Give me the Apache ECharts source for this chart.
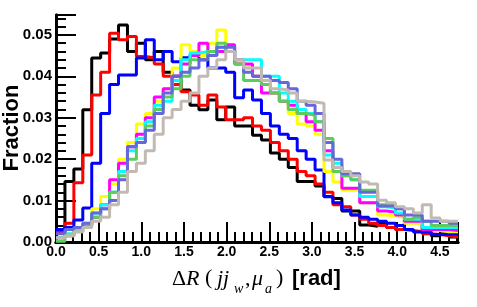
<!DOCTYPE html>
<html><head><meta charset="utf-8">
<script src="https://cdn.jsdelivr.net/npm/echarts@6/dist/echarts.min.js"></script>
<style>html,body{margin:0;padding:0;background:#fff}#c{width:477px;height:307px}</style>
</head><body><div id="c"></div>
<script>
// bin layout: 45 bins of width pi/30 from 0 to 3pi/2
const nBins = 45;
const binWidth = Math.PI / 30;
const xTickLabels = ['0.0','0.5','1.0','1.5','2.0','2.5','3.0','3.5','4.0','4.5'];
const yTickLabels = ['0.00','0.01','0.02','0.03','0.04','0.05'];

const blackVals = [0.0025,0.0146,0.0176,0.0319,0.0444,0.0456,0.049,0.0524,0.046,0.048,0.044,0.046,0.041,0.040,0.0367,0.033,0.0319,0.0343,0.0295,0.0326,0.028,0.028,0.0258,0.0246,0.0215,0.020,0.018,0.0146,0.0146,0.0135,0.011,0.0105,0.0075,0.0075,0.0041,0.0038,0.0045,0.0035,0.003,0.0053,0.0053,0.0025,0.0015,0.002,0.0012];
const redVals = [0.0025,0.0045,0.0143,0.021,0.0355,0.041,0.0504,0.0488,0.0496,0.0448,0.0445,0.043,0.040,0.038,0.0363,0.0355,0.033,0.0355,0.0326,0.0295,0.0295,0.030,0.028,0.027,0.024,0.022,0.020,0.017,0.016,0.014,0.012,0.009,0.0085,0.0065,0.0055,0.0045,0.004,0.0035,0.003,0.0028,0.0025,0.002,0.0018,0.0015,0.0012];
const blueVals = [0.003,0.0035,0.0053,0.0082,0.019,0.031,0.038,0.0403,0.0403,0.0444,0.0488,0.044,0.046,0.0435,0.0445,0.045,0.044,0.042,0.042,0.041,0.0348,0.0367,0.0343,0.031,0.028,0.026,0.025,0.022,0.020,0.0174,0.0109,0.0095,0.0077,0.0065,0.006,0.0055,0.005,0.0045,0.004,0.003,0.0024,0.0024,0.0018,0.0018,0.002];
const yellowVals = [0.001,0.002,0.003,0.004,0.008,0.011,0.014,0.020,0.024,0.0285,0.031,0.034,0.037,0.042,0.0476,0.046,0.045,0.048,0.0512,0.046,0.043,0.042,0.040,0.038,0.036,0.034,0.031,0.0285,0.028,0.026,0.017,0.0145,0.0125,0.0125,0.0095,0.0095,0.0065,0.0063,0.006,0.0045,0.0045,0.003,0.0028,0.0025,0.0025];
const magentaVals = [0.001,0.0015,0.003,0.004,0.006,0.009,0.015,0.019,0.023,0.026,0.030,0.035,0.037,0.040,0.043,0.045,0.048,0.045,0.046,0.0476,0.043,0.043,0.040,0.036,0.036,0.034,0.033,0.031,0.029,0.027,0.022,0.018,0.013,0.013,0.0095,0.0095,0.0075,0.0072,0.0065,0.005,0.005,0.003,0.003,0.003,0.0028];
const cyanVals = [0.001,0.002,0.003,0.0045,0.007,0.009,0.012,0.017,0.022,0.025,0.029,0.033,0.034,0.039,0.044,0.0456,0.046,0.045,0.047,0.046,0.044,0.044,0.044,0.040,0.040,0.036,0.034,0.032,0.031,0.029,0.021,0.019,0.016,0.015,0.011,0.011,0.0085,0.0082,0.007,0.0055,0.0055,0.0035,0.0035,0.0035,0.0035];
const greenVals = [0.0002,0.0015,0.0025,0.004,0.006,0.008,0.012,0.016,0.020,0.024,0.028,0.032,0.035,0.037,0.040,0.044,0.044,0.046,0.048,0.046,0.043,0.039,0.039,0.038,0.036,0.034,0.032,0.031,0.0306,0.029,0.025,0.017,0.016,0.015,0.0125,0.0125,0.009,0.009,0.008,0.0055,0.006,0.005,0.004,0.004,0.004];
const slateVals = [0.002,0.003,0.0035,0.0045,0.007,0.008,0.010,0.015,0.023,0.024,0.027,0.031,0.036,0.040,0.041,0.042,0.044,0.045,0.047,0.047,0.044,0.041,0.040,0.040,0.039,0.0385,0.037,0.034,0.033,0.031,0.024,0.020,0.0165,0.0165,0.012,0.012,0.0087,0.0087,0.008,0.0065,0.0065,0.005,0.005,0.005,0.0045];
const grayVals = [0.001,0.0015,0.0025,0.0035,0.005,0.006,0.009,0.012,0.017,0.019,0.022,0.026,0.030,0.032,0.034,0.036,0.040,0.042,0.044,0.046,0.044,0.042,0.042,0.039,0.037,0.0367,0.036,0.034,0.0338,0.0335,0.0198,0.018,0.017,0.016,0.0145,0.014,0.0101,0.0095,0.0085,0.008,0.007,0.009,0.0058,0.005,0.005];

const seriesDefs = [
  {name:'s1', color:'#000000', vals: blackVals},
  {name:'s2', color:'#ff0000', vals: redVals},
  {name:'s3', color:'#0000ff', vals: blueVals},
  {name:'s4', color:'#ffff00', vals: yellowVals},
  {name:'s5', color:'#ff00ff', vals: magentaVals},
  {name:'s6', color:'#00ffff', vals: cyanVals},
  {name:'s7', color:'#5ccc5c', vals: greenVals},
  {name:'s8', color:'#6666dd', vals: slateVals},
  {name:'s9', color:'#c2bab2', vals: grayVals}
];

const xMax = nBins * binWidth;
const yMax = 0.0548;
const font = 'Liberation Sans, Arial, Helvetica, sans-serif';

function histData(vals){
  const d = vals.map((v,i)=>[i*binWidth, v]);
  d.push([nBins*binWidth, vals[vals.length-1]]);
  return d;
}

const chart = echarts.init(document.getElementById('c'), null, {renderer:'canvas'});
const frameLine = {show:true, lineStyle:{color:'#000', width:3}};
const noTick = {show:false};
const hide = {show:false};
// tick helper axes are shifted into the plot; their outward ticks reach back to the frame
const majorTick = {show:true, length:10, lineStyle:{color:'#000', width:2}};
const minorTick = {show:true, splitNumber:5, length:5, lineStyle:{color:'#000', width:2}};
function xAx(extra){ return Object.assign({type:'value', min:0, max:xMax, interval:0.5, splitLine:hide, minorSplitLine:hide}, extra); }
function yAx(extra){ return Object.assign({type:'value', min:0, max:yMax, interval:0.01, splitLine:hide, minorSplitLine:hide}, extra); }
function tickAxes(mk, pos){
  return [
    mk({position:pos, offset:-10, axisLine:hide, axisTick:majorTick, minorTick:hide, axisLabel:hide}),
    mk({position:pos, offset:-5, axisLine:hide, axisTick:noTick, minorTick:minorTick, axisLabel:hide})
  ];
}

chart.setOption({
  animation:false,
  backgroundColor:'#fff',
  grid:{left:56, right:19, top:15, bottom:65, containLabel:false, outerBoundsMode:'none'},
  xAxis:[
    xAx({position:'bottom', axisLine:frameLine, axisTick:noTick, minorTick:noTick,
      axisLabel:{show:true, margin:3, color:'#000', fontFamily:font, fontWeight:'bold', fontSize:14,
        showMaxLabel:false, formatter:(v)=>{const i=Math.round(v/0.5); return xTickLabels[i]||'';}}}),
    xAx({position:'top', axisLine:frameLine, axisTick:noTick, minorTick:noTick, axisLabel:hide})
  ].concat(tickAxes(xAx,'bottom'), tickAxes(xAx,'top')),
  yAxis:[
    yAx({position:'left', axisLine:frameLine, axisTick:noTick, minorTick:noTick,
      axisLabel:{show:true, margin:4, color:'#000', fontFamily:font, fontWeight:'bold', fontSize:15,
        showMaxLabel:false, formatter:(v)=>{const i=Math.round(v/0.01); return yTickLabels[i]||'';}}}),
    yAx({position:'right', axisLine:frameLine, axisTick:noTick, minorTick:noTick, axisLabel:hide})
  ].concat(tickAxes(yAx,'left'), tickAxes(yAx,'right')),
  series: seriesDefs.map(s=>({
    name:s.name, type:'line', step:'end', symbol:'none', data:histData(s.vals),
    xAxisIndex:0, yAxisIndex:0,
    lineStyle:{color:s.color, width:3}, itemStyle:{color:s.color}, clip:true, z:2
  })),
  graphic:[
    {type:'text', x:12, y:128, rotation:Math.PI/2, style:{text:'Fraction', font:'bold 22px "Liberation Sans", Arial, sans-serif', fill:'#000', align:'center', verticalAlign:'middle'}},
    {type:'text', left:172, top:268, style:{text:'\u0394', font:'22px "Liberation Serif", serif', fill:'#000'}},
    {type:'text', left:186, top:268, style:{text:'R', font:'italic 22px "Liberation Serif", serif', fill:'#000'}},
    {type:'text', left:205, top:267, style:{text:'(', font:'22px "Liberation Serif", serif', fill:'#000'}},
    {type:'text', left:217, top:268, style:{text:'jj', font:'italic 22px "Liberation Serif", serif', fill:'#000'}},
    {type:'text', left:234, top:282, style:{text:'w', font:'italic 14px "Liberation Serif", serif', fill:'#000'}},
    {type:'text', left:245, top:268, style:{text:',', font:'22px "Liberation Serif", serif', fill:'#000'}},
    {type:'text', left:252, top:268, style:{text:'\u03bc', font:'italic 22px "Liberation Serif", serif', fill:'#000'}},
    {type:'text', left:265, top:282, style:{text:'a', font:'italic 14px "Liberation Serif", serif', fill:'#000'}},
    {type:'text', left:276, top:267, style:{text:')', font:'22px "Liberation Serif", serif', fill:'#000'}},
    {type:'text', left:292, top:268, style:{text:'[rad]', font:'bold 22px "Liberation Sans", Arial, sans-serif', fill:'#000'}}
  ]
});
</script></body></html>
